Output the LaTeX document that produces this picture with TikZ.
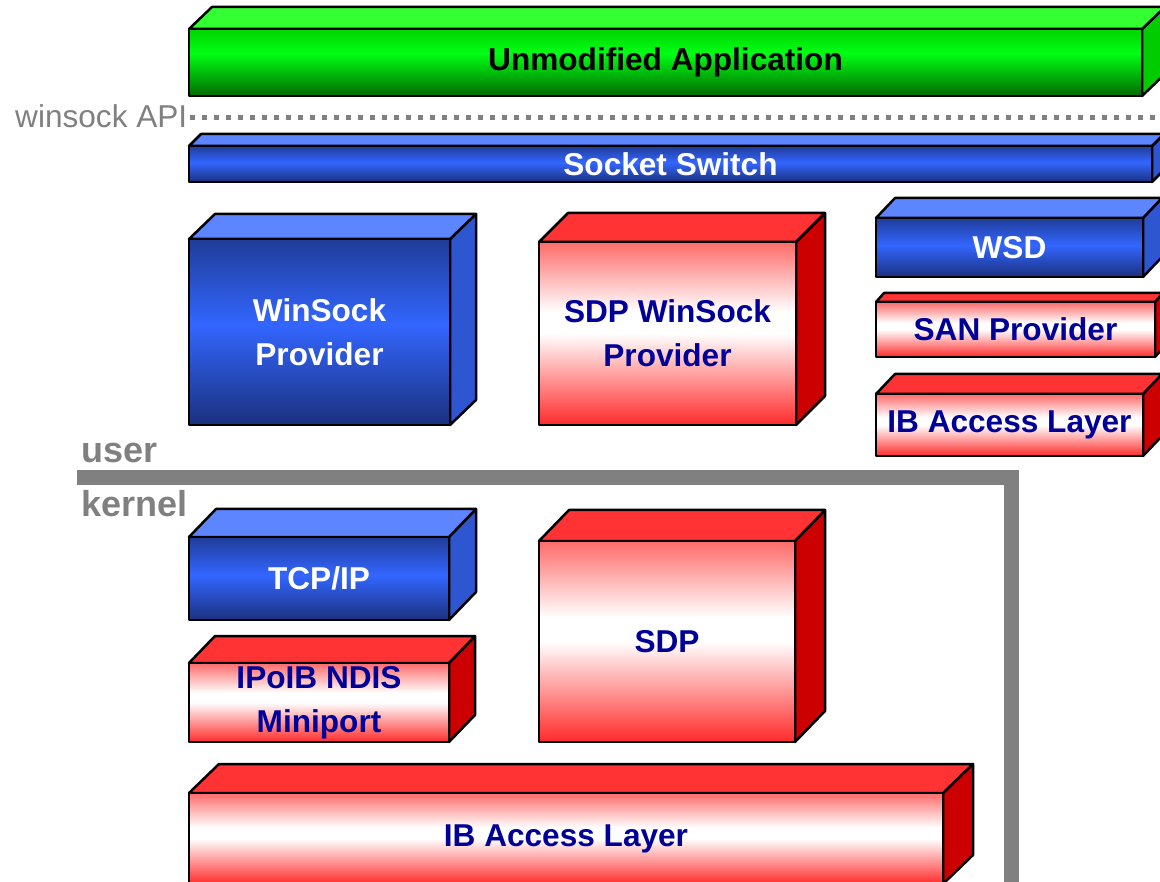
\documentclass[tikz,border=0pt]{standalone}
\usepackage{fontspec}
\setmainfont{Liberation Sans}
\definecolor{redtopc}{HTML}{FF6A6A}
\definecolor{redbotc}{HTML}{FF2A2A}
\definecolor{bluetopc}{HTML}{1F3C98}
\definecolor{bluemidc}{HTML}{3366FF}
\definecolor{bluebotc}{HTML}{1B307E}
\definecolor{greentopc}{HTML}{00D400}
\definecolor{greenmidc}{HTML}{00FF14}
\definecolor{greenbotc}{HTML}{006A00}
\definecolor{redlid}{HTML}{FF3333}
\definecolor{redside}{HTML}{CC0000}
\definecolor{bluelid}{HTML}{5C85FF}
\definecolor{blueside}{HTML}{2E56D0}
\definecolor{greenlid}{HTML}{33FF33}
\definecolor{greenside}{HTML}{00CC00}
\definecolor{navytext}{HTML}{000099}
\definecolor{greyline}{HTML}{808080}
\pgfdeclareverticalshading{redfront}{100bp}{color(0bp)=(redbotc); color(25bp)=(redbotc); color(50bp)=(white); color(56bp)=(white); color(75bp)=(redtopc); color(100bp)=(redtopc)}
\pgfdeclareverticalshading{bluefront}{100bp}{color(0bp)=(bluebotc); color(25bp)=(bluebotc); color(52bp)=(bluemidc); color(75bp)=(bluetopc); color(100bp)=(bluetopc)}
\pgfdeclareverticalshading{greenfront}{100bp}{color(0bp)=(greenbotc); color(25bp)=(greenbotc); color(57bp)=(greenmidc); color(75bp)=(greentopc); color(100bp)=(greentopc)}
\tikzset{
  edge/.style={draw=black,line width=2.5pt,line join=round},
  boxtext/.style={font=\fontsize{31.6}{44}\selectfont\bfseries,align=center,inner sep=0pt},
  redlidf/.style={edge,fill=redlid},
  redsidef/.style={edge,fill=redside},
  redfrontf/.style={edge,shade,shading=redfront,boxtext,text=navytext},
  bluelidf/.style={edge,fill=bluelid},
  bluesidef/.style={edge,fill=blueside},
  bluefrontf/.style={edge,shade,shading=bluefront,boxtext,text=white},
  greenlidf/.style={edge,fill=greenlid},
  greensidef/.style={edge,fill=greenside},
  greenfrontf/.style={edge,shade,shading=greenfront,boxtext,text=black},
  sidelabel/.style={text=greyline,inner sep=0pt,anchor=base west},
}
% #1 name, #2 kind, #3 x1, #4 y1, #5 x2, #6 y2, #7 dx, #8 dy, #9 text
\newcommand\layerbox[9]{%
  \path[#2sidef] (#5,#4) -- ++(#7,-#8) -- ++(0,#6-#4) -- (#5,#6) -- cycle;
  \path[#2lidf] (#3,#4) -- ++(#7,-#8) -- ++(#5-#3,0) -- (#5,#4) -- cycle;
  \node[#2frontf,minimum width=#5-#3,minimum height=#6-#4] (#1) at ({(#3+#5)/2},{(#4+#6)/2}) {#9};
}
\begin{document}
\begin{tikzpicture}[x=1pt,y=-1pt]
\useasboundingbox (0,0) rectangle (1160,882);
\clip (0,0) rectangle (1160,882);
\layerbox{app}{green}{189}{29}{1142}{96}{23}{22}{Unmodified Application}
\draw[greyline,line width=5pt,dash pattern=on 5pt off 7pt] (190,118) -- (1165,118);
\node[sidelabel,font=\fontsize{31.6}{36}\selectfont] (api) at (15,128) {winsock API};
\layerbox{sw}{blue}{189}{146}{1152}{182}{12}{12}{Socket Switch}
\layerbox{wsp}{blue}{189}{239}{450}{425}{26}{25}{WinSock\\Provider}
\layerbox{sdpw}{red}{539}{242}{796}{425}{29}{29}{SDP WinSock\\Provider}
\layerbox{wsd}{blue}{876}{218}{1143}{277}{19}{20}{WSD}
\layerbox{san}{red}{876}{302}{1155}{357}{8}{9}{SAN Provider}
\layerbox{ibu}{red}{876}{394}{1143}{456}{19}{20}{IB Access Layer}
\draw[greyline,line width=15pt,line join=miter] (77,477.5) -- (1011,477.5) -- (1011,900);
\node[sidelabel,font=\fontsize{36}{40}\selectfont\bfseries] (user) at (81,463) {user};
\node[sidelabel,font=\fontsize{36}{40}\selectfont\bfseries] (kernel) at (81,517) {kernel};
\layerbox{tcp}{blue}{189}{537}{449}{620}{27}{28}{TCP/IP}
\layerbox{ipoib}{red}{189}{663}{449}{742}{26}{27}{IPoIB NDIS\\Miniport}
\layerbox{sdp}{red}{539}{541}{795}{742}{30}{31}{SDP}
\layerbox{ibk}{red}{189}{793}{943}{884}{30}{29}{IB Access Layer}
\end{tikzpicture}
\end{document}
